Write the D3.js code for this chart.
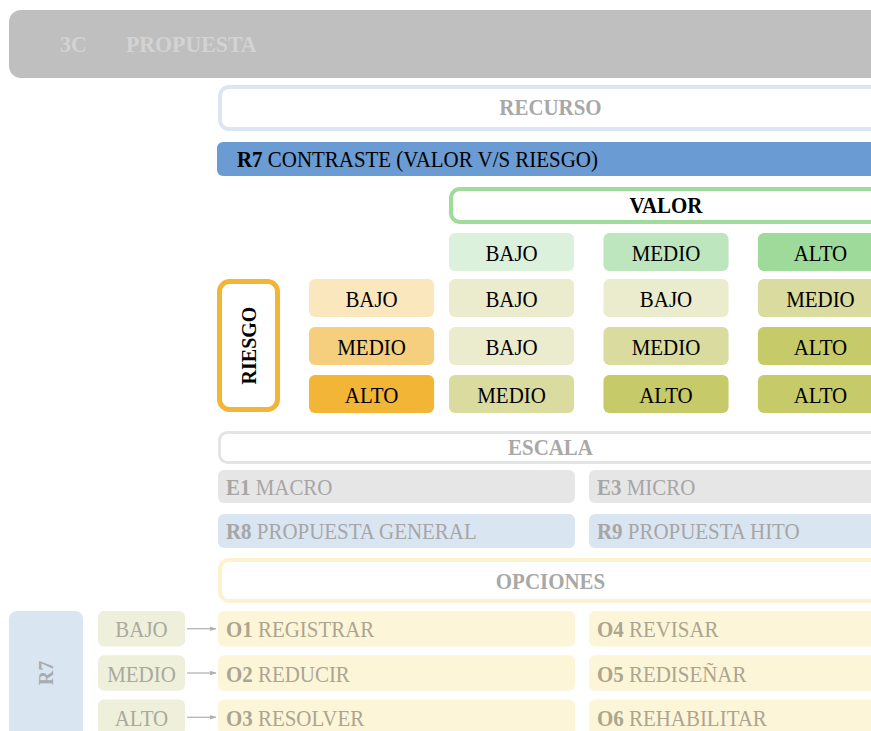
<!DOCTYPE html>
<html><head><meta charset="utf-8">
<script src="https://cdn.jsdelivr.net/npm/d3@7/dist/d3.min.js"></script>
<style>
html,body{margin:0;padding:0;background:#fff;overflow:hidden}
text{font-family:"Liberation Serif","DejaVu Serif",serif}
</style></head>
<body><svg id="c" width="871" height="731"></svg>
<script>
// ---- data ----
const bannerCode = "3C";
const bannerTitle = "PROPUESTA";
const recursoTitle = "RECURSO";
const r7Code = "R7";
const r7Label = "CONTRASTE (VALOR V/S RIESGO)";
const valorTitle = "VALOR";
const riesgoTitle = "RIESGO";
const valorLevels = ["BAJO", "MEDIO", "ALTO"];
const riesgoLevels = ["BAJO", "MEDIO", "ALTO"];
// rows = riesgo, columns = valor
const matrix = [
  ["BAJO", "BAJO", "MEDIO"],
  ["BAJO", "MEDIO", "ALTO"],
  ["MEDIO", "ALTO", "ALTO"]
];
const escalaTitle = "ESCALA";
const escalaCodes = ["E1", "E3"];
const escalaLabels = ["MACRO", "MICRO"];
const propCodes = ["R8", "R9"];
const propLabels = ["PROPUESTA GENERAL", "PROPUESTA HITO"];
const opcionesTitle = "OPCIONES";
const optionLevels = ["BAJO", "MEDIO", "ALTO"];
const optCodesLeft = ["O1", "O2", "O3"];
const optLabelsLeft = ["REGISTRAR", "REDUCIR", "RESOLVER"];
const optCodesRight = ["O4", "O5", "O6"];
const optLabelsRight = ["REVISAR", "REDISEÑAR", "REHABILITAR"];

// ---- styles ----
const valorFill = {BAJO: "#dcf1dc", MEDIO: "#bde6bf", ALTO: "#9edb9b"};
const riesgoFill = {BAJO: "#fbe7be", MEDIO: "#f5cf7d", ALTO: "#f2b535"};
const resultFill = {BAJO: "#ebebcd", MEDIO: "#d9db9f", ALTO: "#c7ca68"};
const FS = 23;
const SQUEEZE = 0.91;

const svg = d3.select("#c");

function squeeze(t) {
  const n = t.node();
  const len = n.getComputedTextLength();
  if (len > 0) t.attr("textLength", len * SQUEEZE).attr("lengthAdjust", "spacingAndGlyphs");
  return t;
}
function frame(x0, y0, x1, y1, stroke, sw, rx) {
  svg.append("rect").attr("x", x0 + sw / 2).attr("y", y0 + sw / 2)
    .attr("width", x1 - x0 - sw).attr("height", y1 - y0 - sw)
    .attr("rx", rx).attr("fill", "#fff").attr("stroke", stroke).attr("stroke-width", sw);
}
function label(x, yc, txt, opts) {
  const o = Object.assign({size: FS, anchor: "middle", weight: "normal", color: "#000"}, opts || {});
  const t = svg.append("text").attr("x", x).attr("y", yc + o.size * 0.33)
    .attr("text-anchor", o.anchor).attr("font-size", o.size)
    .attr("font-weight", o.weight).attr("fill", o.color).text(txt);
  return squeeze(t);
}
function codeLabel(x, yc, code, txt, color) {
  const t = svg.append("text").attr("x", x).attr("y", yc + FS * 0.33)
    .attr("font-size", FS).attr("fill", color);
  t.append("tspan").attr("font-weight", "bold").text(code);
  t.append("tspan").text(" " + txt);
  return squeeze(t);
}

const XL = 218, XR = 883, CX = (XL + XR) / 2;

// banner
svg.append("rect").attr("x", 9).attr("y", 10).attr("width", 920).attr("height", 68)
  .attr("rx", 12).attr("fill", "#bfbfbf");
label(60, 44, bannerCode, {anchor: "start", weight: "bold", color: "#d3d3d3", size: 24});
label(126, 44, bannerTitle, {anchor: "start", weight: "bold", color: "#d3d3d3", size: 24});

// recurso
frame(XL, 85, XR, 131, "#dce6f3", 4, 9);
label(CX, 107, recursoTitle, {weight: "bold", color: "#a8a8a8"});

// R7 bar
svg.append("rect").attr("x", 217).attr("y", 142).attr("width", 700).attr("height", 34)
  .attr("rx", 6).attr("fill", "#6a9bd2");
codeLabel(237, 159, r7Code, r7Label, "#000");

// valor header
frame(449, 187, XR, 224, "#9fdc9b", 4, 9);
label((449 + XR) / 2, 205, valorTitle, {weight: "bold"});

const x = d3.scaleBand().domain(valorLevels).range([449, XR]).paddingInner(0.19);
const y = d3.scaleBand().domain(riesgoLevels).range([279, 413]).paddingInner(0.21);
const hdrY = 233, hdrH = 38;
const rowHdrX = 309;

// valor level headers
valorLevels.forEach(v => {
  svg.append("rect").attr("x", x(v)).attr("y", hdrY).attr("width", x.bandwidth()).attr("height", hdrH)
    .attr("rx", 6).attr("fill", valorFill[v]);
  label(x(v) + x.bandwidth() / 2, hdrY + hdrH / 2 + 1, v);
});

// riesgo frame + vertical title
frame(217, 279, 280, 412, "#f2b535", 5, 10);
squeeze(svg.append("text").attr("transform", `translate(${(217 + 280) / 2 + 7},${(279 + 412) / 2}) rotate(-90)`)
  .attr("text-anchor", "middle").attr("font-size", 22).attr("font-weight", "bold").attr("fill", "#000")
  .text(riesgoTitle));

// riesgo level headers
riesgoLevels.forEach(r => {
  svg.append("rect").attr("x", rowHdrX).attr("y", y(r)).attr("width", x.bandwidth()).attr("height", y.bandwidth())
    .attr("rx", 6).attr("fill", riesgoFill[r]);
  label(rowHdrX + x.bandwidth() / 2, y(r) + y.bandwidth() / 2 + 1, r);
});

// matrix cells
riesgoLevels.forEach((r, i) => {
  valorLevels.forEach((v, j) => {
    const val = matrix[i][j];
    svg.append("rect").attr("x", x(v)).attr("y", y(r)).attr("width", x.bandwidth()).attr("height", y.bandwidth())
      .attr("rx", 6).attr("fill", resultFill[val]);
    label(x(v) + x.bandwidth() / 2, y(r) + y.bandwidth() / 2 + 1, val);
  });
});

// escala
frame(XL, 431, XR, 464, "#e4e4e4", 3, 8);
label(CX, 447, escalaTitle, {weight: "bold", color: "#a8a8a8"});

const colX = d3.scaleBand().domain([0, 1]).range([XL, 946]).paddingInner(14 / 371);
escalaCodes.forEach((c, i) => {
  svg.append("rect").attr("x", colX(i)).attr("y", 470).attr("width", colX.bandwidth()).attr("height", 33)
    .attr("rx", 6).attr("fill", "#e6e6e6");
  codeLabel(colX(i) + 8, 487, c, escalaLabels[i], "#a6a6a6");
});
propCodes.forEach((c, i) => {
  svg.append("rect").attr("x", colX(i)).attr("y", 514).attr("width", colX.bandwidth()).attr("height", 34)
    .attr("rx", 6).attr("fill", "#dae5f2");
  codeLabel(colX(i) + 8, 531, c, propLabels[i], "#a6a6a6");
});

// opciones
frame(XL, 558, XR, 603, "#fdf2d0", 4, 9);
label(CX, 581, opcionesTitle, {weight: "bold", color: "#a8a8a8"});

// left R7 block
svg.append("rect").attr("x", 9).attr("y", 611).attr("width", 74).attr("height", 160)
  .attr("rx", 8).attr("fill", "#dae5f2");
squeeze(svg.append("text").attr("transform", `translate(${46 + 7},673) rotate(-90)`)
  .attr("text-anchor", "middle").attr("font-size", 22).attr("font-weight", "bold").attr("fill", "#a8abb0")
  .text(r7Code));

const oy = d3.scaleBand().domain(optionLevels).range([611, 735]).paddingInner(0.2);

svg.append("defs").append("marker").attr("id", "arr").attr("viewBox", "0 0 10 10")
  .attr("refX", 9).attr("refY", 5).attr("markerWidth", 5).attr("markerHeight", 5)
  .attr("orient", "auto").append("path").attr("d", "M0,1.5L10,5L0,8.5Z").attr("fill", "#b0b0b0");

optionLevels.forEach((lv, i) => {
  const yc = oy(lv) + oy.bandwidth() / 2;
  svg.append("rect").attr("x", 98).attr("y", oy(lv)).attr("width", 87).attr("height", oy.bandwidth())
    .attr("rx", 6).attr("fill", "#eef0dc");
  label(141.5, yc + 1, lv, {color: "#aaa99c"});
  svg.append("line").attr("x1", 187).attr("x2", 216).attr("y1", yc).attr("y2", yc)
    .attr("stroke", "#b5b5b5").attr("stroke-width", 1.3).attr("marker-end", "url(#arr)");
  [[optCodesLeft, optLabelsLeft], [optCodesRight, optLabelsRight]].forEach(([codes, labels], k) => {
    svg.append("rect").attr("x", colX(k)).attr("y", oy(lv)).attr("width", colX.bandwidth()).attr("height", oy.bandwidth())
      .attr("rx", 6).attr("fill", "#fdf5d8");
    codeLabel(colX(k) + 8, yc + 1, codes[i], labels[i], "#aba591");
  });
});
</script></body></html>
